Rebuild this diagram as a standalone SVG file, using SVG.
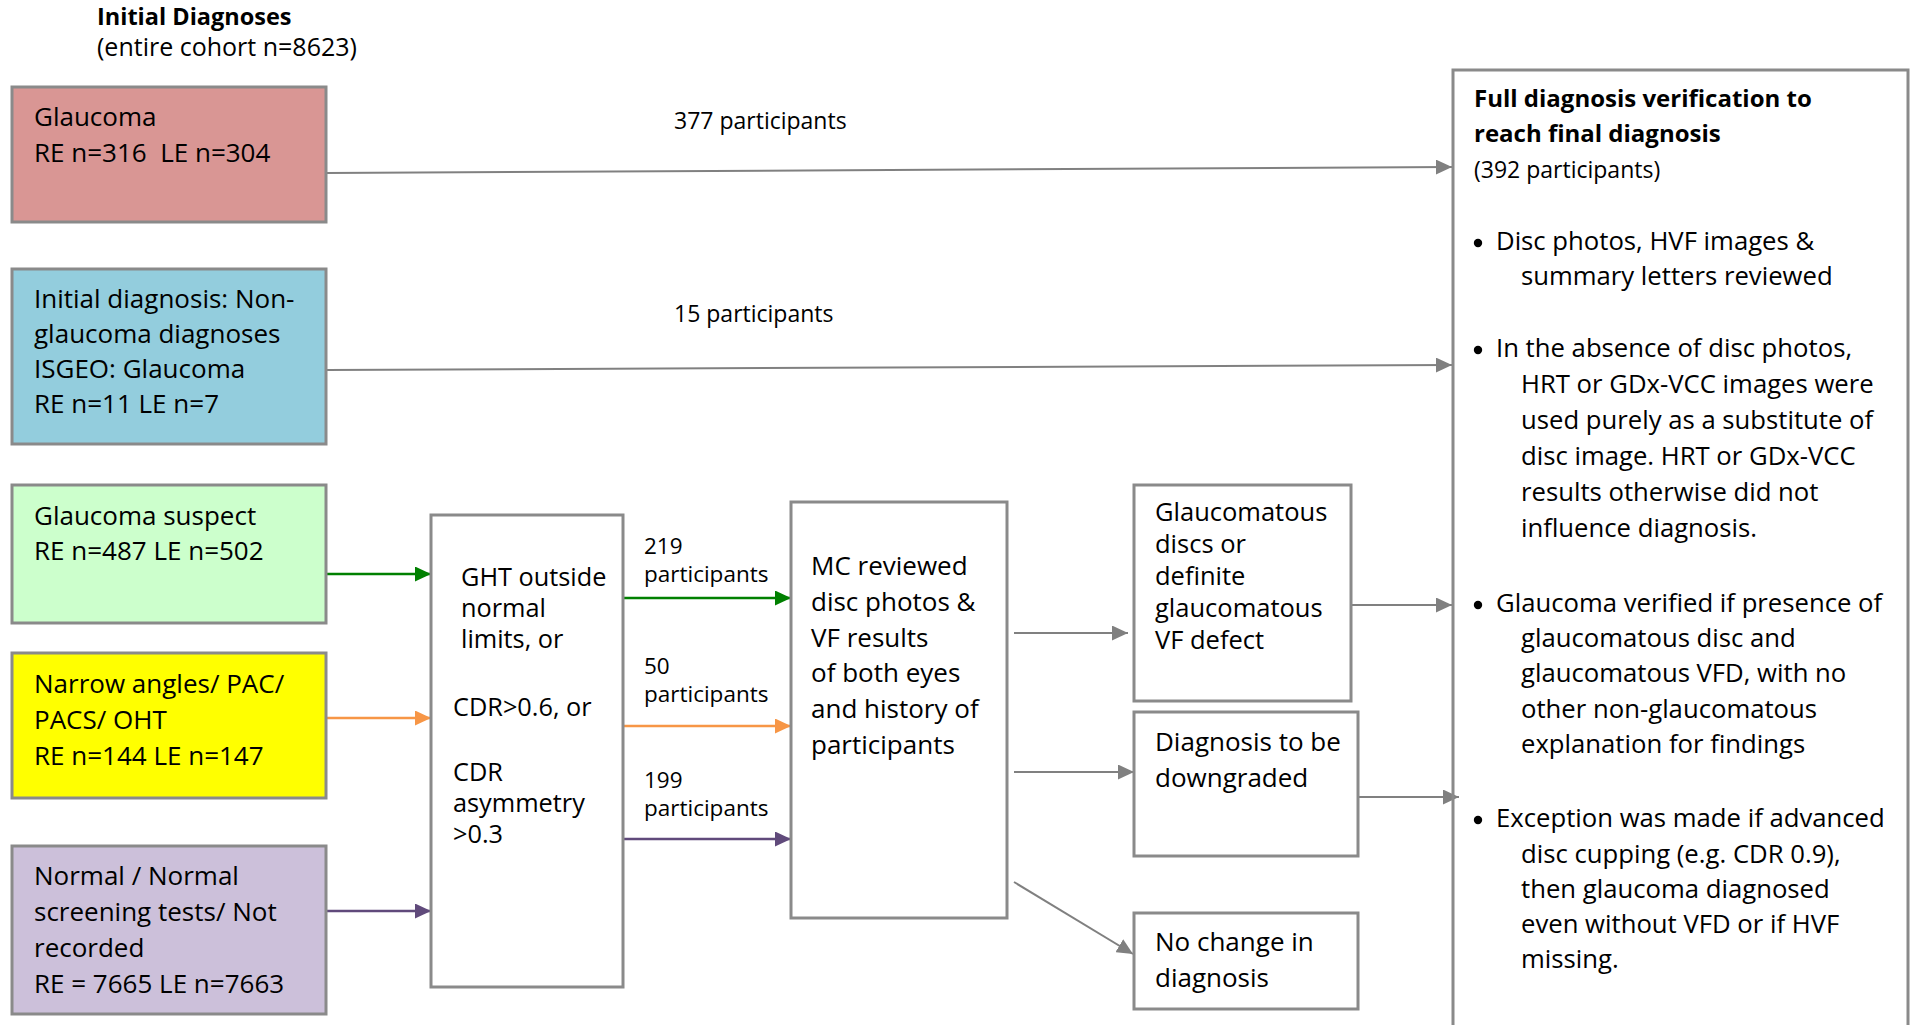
<svg xmlns="http://www.w3.org/2000/svg" width="1912" height="1025" viewBox="0 0 1912 1025">
<style>
.box{stroke:#8a8a8a;stroke-width:3}
.t{font-family:"Open Sans","Liberation Sans",sans-serif;font-size:26px;fill:#000}
.s{font-size:23px}
.l{font-size:22.5px}
.r{font-size:25.7px}
.b{font-weight:bold}
.cg{stroke:#808080;stroke-width:2;fill:none}
.cgr{stroke:#008000;stroke-width:2.5;fill:none}
.cor{stroke:#F79646;stroke-width:2.5;fill:none}
.cpu{stroke:#604A7B;stroke-width:2.5;fill:none}
</style>
<defs>
<marker id="ag" markerUnits="userSpaceOnUse" markerWidth="16" markerHeight="15" refX="16" refY="7.5" orient="auto"><path d="M0,0 L16,7.5 L0,15 Z" fill="#808080"/></marker>
<marker id="agr" markerUnits="userSpaceOnUse" markerWidth="16" markerHeight="15" refX="16" refY="7.5" orient="auto"><path d="M0,0 L16,7.5 L0,15 Z" fill="#008000"/></marker>
<marker id="aor" markerUnits="userSpaceOnUse" markerWidth="16" markerHeight="15" refX="16" refY="7.5" orient="auto"><path d="M0,0 L16,7.5 L0,15 Z" fill="#F79646"/></marker>
<marker id="apu" markerUnits="userSpaceOnUse" markerWidth="16" markerHeight="15" refX="16" refY="7.5" orient="auto"><path d="M0,0 L16,7.5 L0,15 Z" fill="#604A7B"/></marker>
</defs>
<rect width="1912" height="1025" fill="#fff"/>

<g id="title">
<text class="t"><tspan x="97" y="25" font-weight="bold" font-size="23.5">Initial Diagnoses</tspan><tspan x="97" y="56" font-size="25">(entire cohort n=8623)</tspan></text>
</g>

<g id="connectors">
<line class="cg" x1="326" y1="173" x2="1452" y2="167" marker-end="url(#ag)"/>
<text class="t s" x="674" y="129">377 participants</text>
<line class="cg" x1="326" y1="370" x2="1452" y2="365" marker-end="url(#ag)"/>
<text class="t s" x="674" y="322">15 participants</text>
<line class="cgr" x1="326" y1="574" x2="431" y2="574" marker-end="url(#agr)"/>
<line class="cor" x1="326" y1="718" x2="431" y2="718" marker-end="url(#aor)"/>
<line class="cpu" x1="326" y1="911" x2="431" y2="911" marker-end="url(#apu)"/>
<line class="cgr" x1="623" y1="598" x2="791" y2="598" marker-end="url(#agr)"/>
<text class="t l"><tspan x="644" y="554">219</tspan><tspan x="644" y="582">participants</tspan></text>
<line class="cor" x1="623" y1="726" x2="791" y2="726" marker-end="url(#aor)"/>
<text class="t l"><tspan x="644" y="674">50</tspan><tspan x="644" y="702">participants</tspan></text>
<line class="cpu" x1="623" y1="839" x2="791" y2="839" marker-end="url(#apu)"/>
<text class="t l"><tspan x="644" y="788">199</tspan><tspan x="644" y="816">participants</tspan></text>
<line class="cg" x1="1014" y1="633" x2="1128" y2="633" marker-end="url(#ag)"/>
<line class="cg" x1="1014" y1="772" x2="1134" y2="772" marker-end="url(#ag)"/>
<line class="cg" x1="1014" y1="882" x2="1133" y2="954" marker-end="url(#ag)"/>
<line class="cg" x1="1351" y1="605" x2="1452" y2="605" marker-end="url(#ag)"/>
<line class="cg" x1="1358" y1="797" x2="1459" y2="797" marker-end="url(#ag)"/>
</g>

<g id="glaucoma">
<rect class="box" x="12" y="87" width="314" height="135" fill="#D99694"/>
<text class="t" xml:space="preserve"><tspan x="34" y="126">Glaucoma</tspan><tspan x="34" y="162">RE n=316  LE n=304</tspan></text>
</g>

<g id="isgeo">
<rect class="box" x="12" y="269" width="314" height="175" fill="#93CDDD"/>
<text class="t"><tspan x="34" y="308">Initial diagnosis: Non-</tspan><tspan x="34" y="343">glaucoma diagnoses</tspan><tspan x="34" y="378">ISGEO: Glaucoma</tspan><tspan x="34" y="413">RE n=11 LE n=7</tspan></text>
</g>

<g id="suspect">
<rect class="box" x="12" y="485" width="314" height="138" fill="#CCFFCC"/>
<text class="t"><tspan x="34" y="525">Glaucoma suspect</tspan><tspan x="34" y="560">RE n=487 LE n=502</tspan></text>
</g>

<g id="narrow">
<rect class="box" x="12" y="653" width="314" height="145" fill="#FFFF00"/>
<text class="t"><tspan x="34" y="693">Narrow angles/ PAC/</tspan><tspan x="34" y="729">PACS/ OHT</tspan><tspan x="34" y="765">RE n=144 LE n=147</tspan></text>
</g>

<g id="normal">
<rect class="box" x="12" y="846" width="314" height="168" fill="#CCC0DA"/>
<text class="t"><tspan x="34" y="885">Normal / Normal</tspan><tspan x="34" y="921">screening tests/ Not</tspan><tspan x="34" y="957">recorded</tspan><tspan x="34" y="993">RE = 7665 LE n=7663</tspan></text>
</g>

<g id="criteria">
<rect class="box" x="431" y="515" width="192" height="472" fill="#fff"/>
<text class="t" style="font-size:25.3px"><tspan x="461" y="586">GHT outside</tspan><tspan x="461" y="617">normal</tspan><tspan x="461" y="648">limits, or</tspan><tspan x="453" y="716">CDR&gt;0.6, or</tspan><tspan x="453" y="781">CDR</tspan><tspan x="453" y="812">asymmetry</tspan><tspan x="453" y="843">&gt;0.3</tspan></text>
</g>

<g id="mc-review">
<rect class="box" x="791" y="502" width="216" height="416" fill="#fff"/>
<text class="t"><tspan x="811" y="575">MC reviewed</tspan><tspan x="811" y="611">disc photos &amp;</tspan><tspan x="811" y="647">VF results</tspan><tspan x="811" y="682">of both eyes</tspan><tspan x="811" y="718">and history of</tspan><tspan x="811" y="754">participants</tspan></text>
</g>

<g id="glaucomatous">
<rect class="box" x="1134" y="485" width="217" height="216" fill="#fff"/>
<text class="t" style="font-size:25.5px"><tspan x="1155" y="521">Glaucomatous</tspan><tspan x="1155" y="553">discs or</tspan><tspan x="1155" y="585">definite</tspan><tspan x="1155" y="617">glaucomatous</tspan><tspan x="1155" y="649">VF defect</tspan></text>
</g>

<g id="downgraded">
<rect class="box" x="1134" y="712" width="224" height="144" fill="#fff"/>
<text class="t"><tspan x="1155" y="751">Diagnosis to be</tspan><tspan x="1155" y="787">downgraded</tspan></text>
</g>

<g id="no-change">
<rect class="box" x="1134" y="913" width="224" height="96" fill="#fff"/>
<text class="t"><tspan x="1155" y="951">No change in</tspan><tspan x="1155" y="987">diagnosis</tspan></text>
</g>

<g id="verification">
<rect class="box" x="1453" y="70" width="455" height="1000" fill="none"/>
<text class="t s"><tspan x="1474" y="107" font-weight="bold" font-size="24">Full diagnosis verification to</tspan><tspan x="1474" y="142" font-weight="bold" font-size="24">reach final diagnosis</tspan><tspan x="1474" y="178">(392 participants)</tspan></text>
<circle cx="1478" cy="243" r="4.2"/>
<text class="t r"><tspan x="1496" y="250">Disc photos, HVF images &amp;</tspan><tspan x="1521" y="285">summary letters reviewed</tspan></text>
<circle cx="1478" cy="350" r="4.2"/>
<text class="t r"><tspan x="1496" y="357">In the absence of disc photos,</tspan><tspan x="1521" y="393">HRT or GDx-VCC images were</tspan><tspan x="1521" y="429">used purely as a substitute of</tspan><tspan x="1521" y="465">disc image. HRT or GDx-VCC</tspan><tspan x="1521" y="501">results otherwise did not</tspan><tspan x="1521" y="537">influence diagnosis.</tspan></text>
<circle cx="1478" cy="605" r="4.2"/>
<text class="t r"><tspan x="1496" y="612">Glaucoma verified if presence of</tspan><tspan x="1521" y="647">glaucomatous disc and</tspan><tspan x="1521" y="682">glaucomatous VFD, with no</tspan><tspan x="1521" y="718">other non-glaucomatous</tspan><tspan x="1521" y="753">explanation for findings</tspan></text>
<circle cx="1478" cy="820" r="4.2"/>
<text class="t r"><tspan x="1496" y="827">Exception was made if advanced</tspan><tspan x="1521" y="863">disc cupping (e.g. CDR 0.9),</tspan><tspan x="1521" y="898">then glaucoma diagnosed</tspan><tspan x="1521" y="933">even without VFD or if HVF</tspan><tspan x="1521" y="968">missing.</tspan></text>
</g>
</svg>
